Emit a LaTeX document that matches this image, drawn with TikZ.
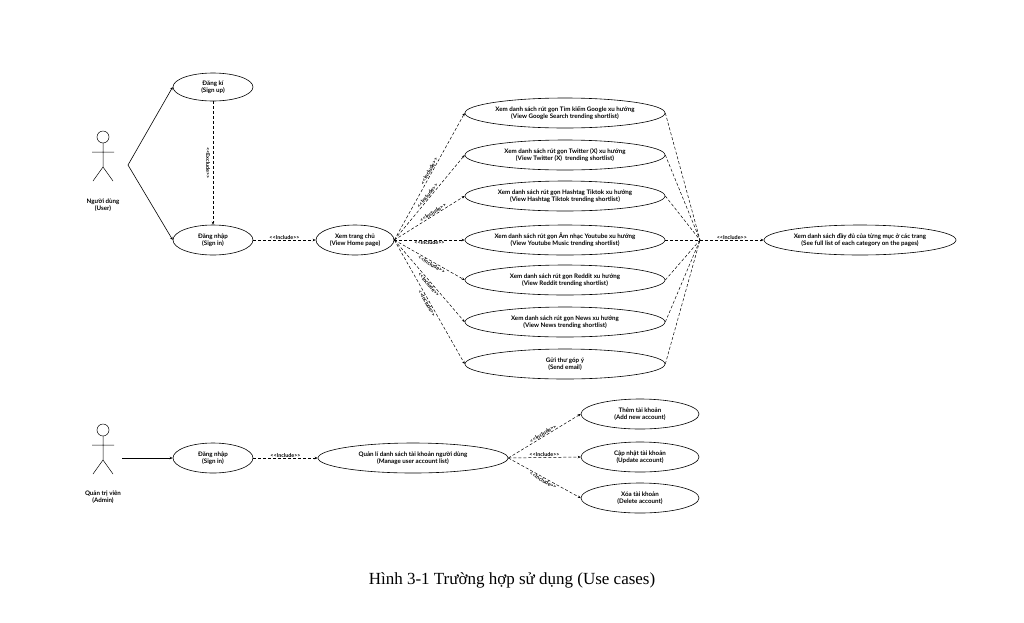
\documentclass[tikz,border=0pt]{standalone}
\usepackage{fontspec}
\setmainfont{Lato}
\newfontfamily\capfont{Liberation Serif}
\usetikzlibrary{shapes.geometric,arrows.meta}
\newcommand{\incl}{{<}{<}Include{>}{>}}
\begin{document}
\begin{tikzpicture}[x=1pt,y=-1pt,
 uc/.style={ellipse,draw,line width=0.6pt,inner sep=0pt,font=\fontsize{6.2}{7.4}\selectfont\bfseries,align=center},
 dep/.style={densely dashed,line width=0.5pt,-{Stealth[length=3pt,width=2.5pt]}},
 assoc/.style={line width=0.6pt,-{Stealth[length=3pt,width=2.5pt]}},
 lab/.style={font=\fontsize{5.4}{6.2}\selectfont\bfseries,inner sep=0.5pt},
 act/.style={font=\fontsize{6.2}{7.4}\selectfont\bfseries,align=center}]
\useasboundingbox (0,0) rectangle (1024,622);
% actors
\foreach \y in {137,430}{
 \draw[line width=0.5pt] (103,\y) circle (6);
 \draw[line width=0.5pt] (103,\y+6) -- (103,\y+30) (92,\y+15) -- (114,\y+15)
   (93,\y+44) -- (103,\y+30) -- (113,\y+44);
}
\node[act] (user) at (103,205) {Người dùng\\(User)};
\node[act] (admin) at (103,497) {Quản trị viên\\(Admin)};
\coordinate (uhand) at (128,165);
\coordinate (ahand) at (122,458);
% user cases
\node[uc,minimum width=80,minimum height=28] (signup) at (213,87) {Đăng kí\\(Sign up)};
\node[uc,minimum width=80,minimum height=30] (signin) at (213,240) {Đăng nhập\\(Sign in)};
\node[uc,minimum width=78,minimum height=30] (home) at (355,240) {Xem trang chủ\\(View Home page)};
\foreach \n/\y/\t in {
 g/113/{Xem danh sách rút gọn Tìm kiếm Google xu hướng\\(View Google Search trending shortlist)},
 t/155/{Xem danh sách rút gọn Twitter (X) xu hướng\\(View Twitter (X)\ \ trending shortlist)},
 k/196/{Xem danh sách rút gọn Hashtag Tiktok xu hướng\\(View Hashtag Tiktok trending shortlist)},
 y/240/{Xem danh sách rút gọn Âm nhạc Youtube xu hướng\\(View Youtube Music trending shortlist)},
 r/280/{Xem danh sách rút gọn Reddit xu hướng\\(View Reddit trending shortlist)},
 n/322/{Xem danh sách rút gọn News xu hướng\\(View News trending shortlist)},
 e/364/{Gửi thư góp ý\\(Send email)}}{
 \node[uc,minimum width=200,minimum height=30] (\n) at (565,\y) {\t};
}
\node[uc,minimum width=192,minimum height=30] (full) at (860,240) {Xem danh sách đầy đủ của từng mục ở các trang\\(See full list of each category on the pages)};
\coordinate (hub) at (700,240);
% user connectors
\draw[assoc] (uhand) -- (signup.west);
\draw[assoc] (uhand) -- (signin.west);
\draw[dep] (signup.south) -- node[lab,rotate=-90,yshift=-5pt] {{<}{<}Exclude{>}{>}} (signin.north);
\draw[dep] (signin.east) -- node[lab,above] {\incl} (home.west);
\foreach \n/\p in {g/0.53,t/0.5,k/0.57}{
 \draw[dep] (home.east) -- node[lab,sloped,above,pos=\p] {\incl} (\n.west);}
\draw[dep] (home.east) -- node[lab,below,pos=0.5] {\incl} (y.west);
\foreach \n/\p in {r/0.55,n/0.52,e/0.5}{
 \draw[dep] (home.east) -- node[lab,sloped,below,pos=\p] {\incl} (\n.west);}
\foreach \n in {g,t,k,r,n,e}{\draw[densely dashed,line width=0.5pt] (\n.east) -- (hub);}
\draw[densely dashed,line width=0.5pt] (y.east) -- (hub);
\draw[dep] (hub) -- node[lab,above] {\incl} (full.west);
% admin
\node[uc,minimum width=80,minimum height=30] (asignin) at (213,458) {Đăng nhập\\(Sign in)};
\node[uc,minimum width=190,minimum height=30] (manage) at (413,458) {Quản lí danh sách tài khoản người dùng\\(Manage user account list)};
\node[uc,minimum width=118,minimum height=30] (add) at (640,414) {Thêm tài khoản\\(Add new account)};
\node[uc,minimum width=118,minimum height=30] (upd) at (640,457) {Cập nhật tài khoản\\(Update account)};
\node[uc,minimum width=118,minimum height=30] (del) at (640,498) {Xóa tài khoản\\(Delete account)};
\draw[assoc] (ahand) -- (asignin.west);
\draw[dep] (asignin.east) -- node[lab,above] {\incl} (manage.west);
\draw[dep] (manage.east) -- node[lab,sloped,above] {\incl} (add.west);
\draw[dep] (manage.east) -- node[lab,above] {\incl} (upd.west);
\draw[dep] (manage.east) -- node[lab,sloped,below] {\incl} (del.west);
\node[font=\capfont\fontsize{17}{20}\selectfont] (cap) at (512,580) {Hình 3-1 Trường hợp sử dụng (Use cases)};
\end{tikzpicture}
\end{document}
